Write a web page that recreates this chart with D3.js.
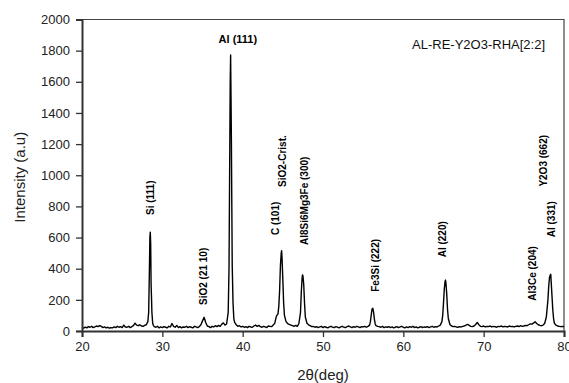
<!DOCTYPE html>
<html>
<head>
<meta charset="utf-8">
<script src="https://cdn.jsdelivr.net/npm/d3@7"></script>
<style>
  html, body { margin: 0; padding: 0; background: #fff; }
  svg { display: block; }
</style>
</head>
<body>
<svg id="chart" width="569" height="383"></svg>
<script>
// ---- data ----
const twoTheta = [
  20.0,20.2,20.4,20.6,20.8,21.0,21.2,21.4,21.6,21.8,22.0,22.2,22.4,22.6,22.8,23.0,23.2,23.4,23.6,23.8,
  24.0,24.2,24.4,24.6,24.8,25.0,25.2,25.4,25.6,25.8,26.0,26.2,26.4,26.6,26.8,27.0,27.2,27.4,27.6,27.8,
  28.0,28.2,28.3,28.4,28.45,28.5,28.55,28.6,28.65,28.7,28.8,28.9,29.0,29.2,29.4,29.6,29.8,
  30.0,30.2,30.4,30.6,30.8,31.0,31.2,31.4,31.6,31.8,32.0,32.2,32.4,32.6,32.8,33.0,33.2,33.4,33.6,33.8,
  34.0,34.2,34.4,34.6,34.8,35.0,35.2,35.4,35.6,35.8,36.0,36.2,36.4,36.6,36.8,37.0,37.2,37.4,37.6,37.8,
  38.0,38.2,38.3,38.4,38.45,38.5,38.55,38.6,38.65,38.7,38.8,38.9,39.0,39.2,39.4,39.6,39.8,
  40.0,40.2,40.4,40.6,40.8,41.0,41.2,41.4,41.6,41.8,42.0,42.2,42.4,42.6,42.8,43.0,43.2,43.4,43.6,43.8,
  44.0,44.2,44.4,44.5,44.6,44.7,44.8,44.85,44.9,45.0,45.1,45.2,45.4,45.6,45.8,46.0,46.2,46.4,46.6,46.8,
  47.0,47.2,47.3,47.4,47.45,47.5,47.6,47.7,47.8,48.0,48.2,48.4,48.6,48.8,49.0,49.2,49.4,49.6,49.8,
  50.0,50.2,50.4,50.6,50.8,51.0,51.2,51.4,51.6,51.8,52.0,52.2,52.4,52.6,52.8,53.0,53.2,53.4,53.6,53.8,
  54.0,54.2,54.4,54.6,54.8,55.0,55.2,55.4,55.6,55.8,55.9,56.0,56.1,56.2,56.3,56.4,56.5,56.6,56.8,
  57.0,57.2,57.4,57.6,57.8,58.0,58.2,58.4,58.6,58.8,59.0,59.2,59.4,59.6,59.8,
  60.0,60.2,60.4,60.6,60.8,61.0,61.2,61.4,61.6,61.8,62.0,62.2,62.4,62.6,62.8,63.0,63.2,63.4,63.6,63.8,
  64.0,64.2,64.4,64.6,64.8,64.9,65.0,65.1,65.2,65.25,65.3,65.4,65.5,65.6,65.8,66.0,66.2,66.4,66.6,66.8,
  67.0,67.2,67.4,67.6,67.8,68.0,68.2,68.4,68.6,68.8,69.0,69.2,69.4,69.6,69.8,
  70.0,70.2,70.4,70.6,70.8,71.0,71.2,71.4,71.6,71.8,72.0,72.2,72.4,72.6,72.8,73.0,73.2,73.4,73.6,73.8,
  74.0,74.2,74.4,74.6,74.8,75.0,75.2,75.4,75.6,75.8,76.0,76.2,76.4,76.6,76.8,77.0,77.2,77.4,77.6,77.8,
  78.0,78.1,78.2,78.3,78.35,78.4,78.5,78.6,78.7,78.8,79.0,79.2,79.4,79.6,79.8,80.0
];
const intensity = [
  22,18,25,20,28,24,30,22,26,32,28,35,30,22,26,20,24,18,22,20,
  26,22,30,24,28,22,38,26,24,30,22,28,34,50,38,34,40,32,30,36,
  40,60,120,420,600,635,560,300,220,120,50,35,28,24,30,20,26,
  22,28,24,20,30,26,48,30,24,36,22,28,20,26,24,30,22,28,24,20,
  30,26,22,28,40,65,88,55,32,28,22,30,26,34,28,36,30,44,52,38,
  45,120,400,1200,1600,1772,1500,1210,800,420,180,80,55,40,30,34,26,
  30,24,28,22,30,26,24,32,38,30,36,28,24,30,26,22,32,30,28,38,
  50,95,110,160,260,420,500,516,470,330,180,100,60,48,42,38,34,30,36,30,
  48,120,250,340,360,355,300,180,90,50,40,34,28,30,24,28,22,26,30,
  22,28,24,20,26,30,24,22,28,25,20,26,30,24,22,28,32,26,22,28,
  24,30,26,22,28,26,30,24,30,38,60,100,140,146,120,75,45,34,30,
  28,24,30,22,26,24,28,22,26,20,24,28,22,26,30,
  24,20,26,22,28,24,30,22,26,20,24,28,22,26,24,28,22,26,30,24,
  28,26,32,38,60,100,180,270,320,327,310,240,140,80,42,32,28,30,26,24,
  28,26,30,32,38,42,36,30,28,32,42,55,40,30,28,
  32,26,30,28,32,26,30,28,24,30,28,32,26,30,28,26,32,28,30,26,
  30,32,28,34,30,32,36,34,40,46,44,50,60,48,40,36,34,38,50,90,
  200,290,345,360,364,320,230,140,80,50,38,32,30,28,30,28
];
const xTicks = [20, 30, 40, 50, 60, 70, 80];
const yTicks = [0, 200, 400, 600, 800, 1000, 1200, 1400, 1600, 1800, 2000];
const peakLabels = ["Si (111)", "SiO2 (21 10)", "C (101)", "SiO2-Crist.", "Al8Si6Mg3Fe (300)",
                    "Fe3Si (222)", "Al (220)", "Al3Ce (204)", "Y2O3 (662)", "Al (331)"];
const peakLabelAngle = [28.5, 35.1, 44.03, 44.97, 47.71, 56.49, 64.83, 76.04, 77.41, 78.47];
const peakLabelBase = [745, 167, 616, 925, 552, 252, 473, 195, 927, 602];
const topLabel = "Al (111)";
const sampleName = "AL-RE-Y2O3-RHA[2:2]";
const xTitle = "2θ(deg)";
const yTitle = "Intensity (a.u)";

// ---- chart ----
const W = 569, H = 383;
const m = { left: 82, right: 5, top: 19.5, bottom: 52 };
const svg = d3.select("#chart");
const x = d3.scaleLinear().domain([20, 80]).range([m.left, W - m.right]);
const y = d3.scaleLinear().domain([0, 2000]).range([H - m.bottom, m.top]);

const axisColor = "#333";
const font = "'Liberation Sans', Arial, sans-serif";

// frame (top and right)
svg.append("path")
  .attr("d", `M${x(20)},${y(2000)}H${x(80)}V${y(0)}`)
  .attr("fill", "none").attr("stroke", "#444").attr("stroke-width", 1.2);

// data line
const pts = twoTheta.map((t, i) => [t, intensity[i]]);
svg.append("path")
  .datum(pts)
  .attr("fill", "none")
  .attr("stroke", "#000")
  .attr("stroke-width", 1.4)
  .attr("stroke-linejoin", "round")
  .attr("d", d3.line().x(d => x(d[0])).y(d => y(d[1])));

// axes
const xAxis = svg.append("g")
  .attr("transform", `translate(0,${y(0)})`)
  .call(d3.axisBottom(x).tickValues(xTicks).tickSize(6).tickPadding(5).tickFormat(d3.format("d")));
const yAxis = svg.append("g")
  .attr("transform", `translate(${x(20)},0)`)
  .call(d3.axisLeft(y).tickValues(yTicks).tickSize(6).tickPadding(6).tickFormat(d3.format("d")));
[xAxis, yAxis].forEach(g => {
  g.select(".domain").attr("stroke", axisColor).attr("stroke-width", 2);
  g.selectAll(".tick line").attr("stroke", axisColor).attr("stroke-width", 1.3);
  g.selectAll(".tick text").attr("fill", "#222").style("font-family", font).style("font-size", "13px");
});

// axis titles
svg.append("text")
  .attr("x", (x(20) + x(80)) / 2).attr("y", 380)
  .attr("text-anchor", "middle")
  .style("font-family", font).style("font-size", "15px").attr("fill", "#222")
  .text(xTitle);
svg.append("text")
  .attr("transform", `translate(25,${(y(0) + y(2000)) / 2 + 2}) rotate(-90)`)
  .attr("text-anchor", "middle")
  .style("font-family", font).style("font-size", "15px").attr("fill", "#222")
  .text(yTitle);

// sample name
svg.append("text")
  .attr("x", 545).attr("y", 49)
  .attr("text-anchor", "end")
  .style("font-family", font).style("font-size", "13px").attr("fill", "#111")
  .text(sampleName);

// top peak label
svg.append("text")
  .attr("x", x(39.4)).attr("y", y(1849))
  .attr("text-anchor", "middle")
  .style("font-family", font).style("font-size", "11px").style("font-weight", "bold").attr("fill", "#000")
  .text(topLabel);

// rotated peak labels
svg.selectAll("text.peak")
  .data(peakLabels)
  .join("text")
  .attr("class", "peak")
  .attr("transform", (d, i) => `translate(${x(peakLabelAngle[i])},${y(peakLabelBase[i])}) rotate(-90)`)
  .attr("dy", "0.35em")
  .attr("text-anchor", "start")
  .style("font-family", font).style("font-size", "10px").style("font-weight", "bold").attr("fill", "#000")
  .text(d => d);
</script>
</body>
</html>
